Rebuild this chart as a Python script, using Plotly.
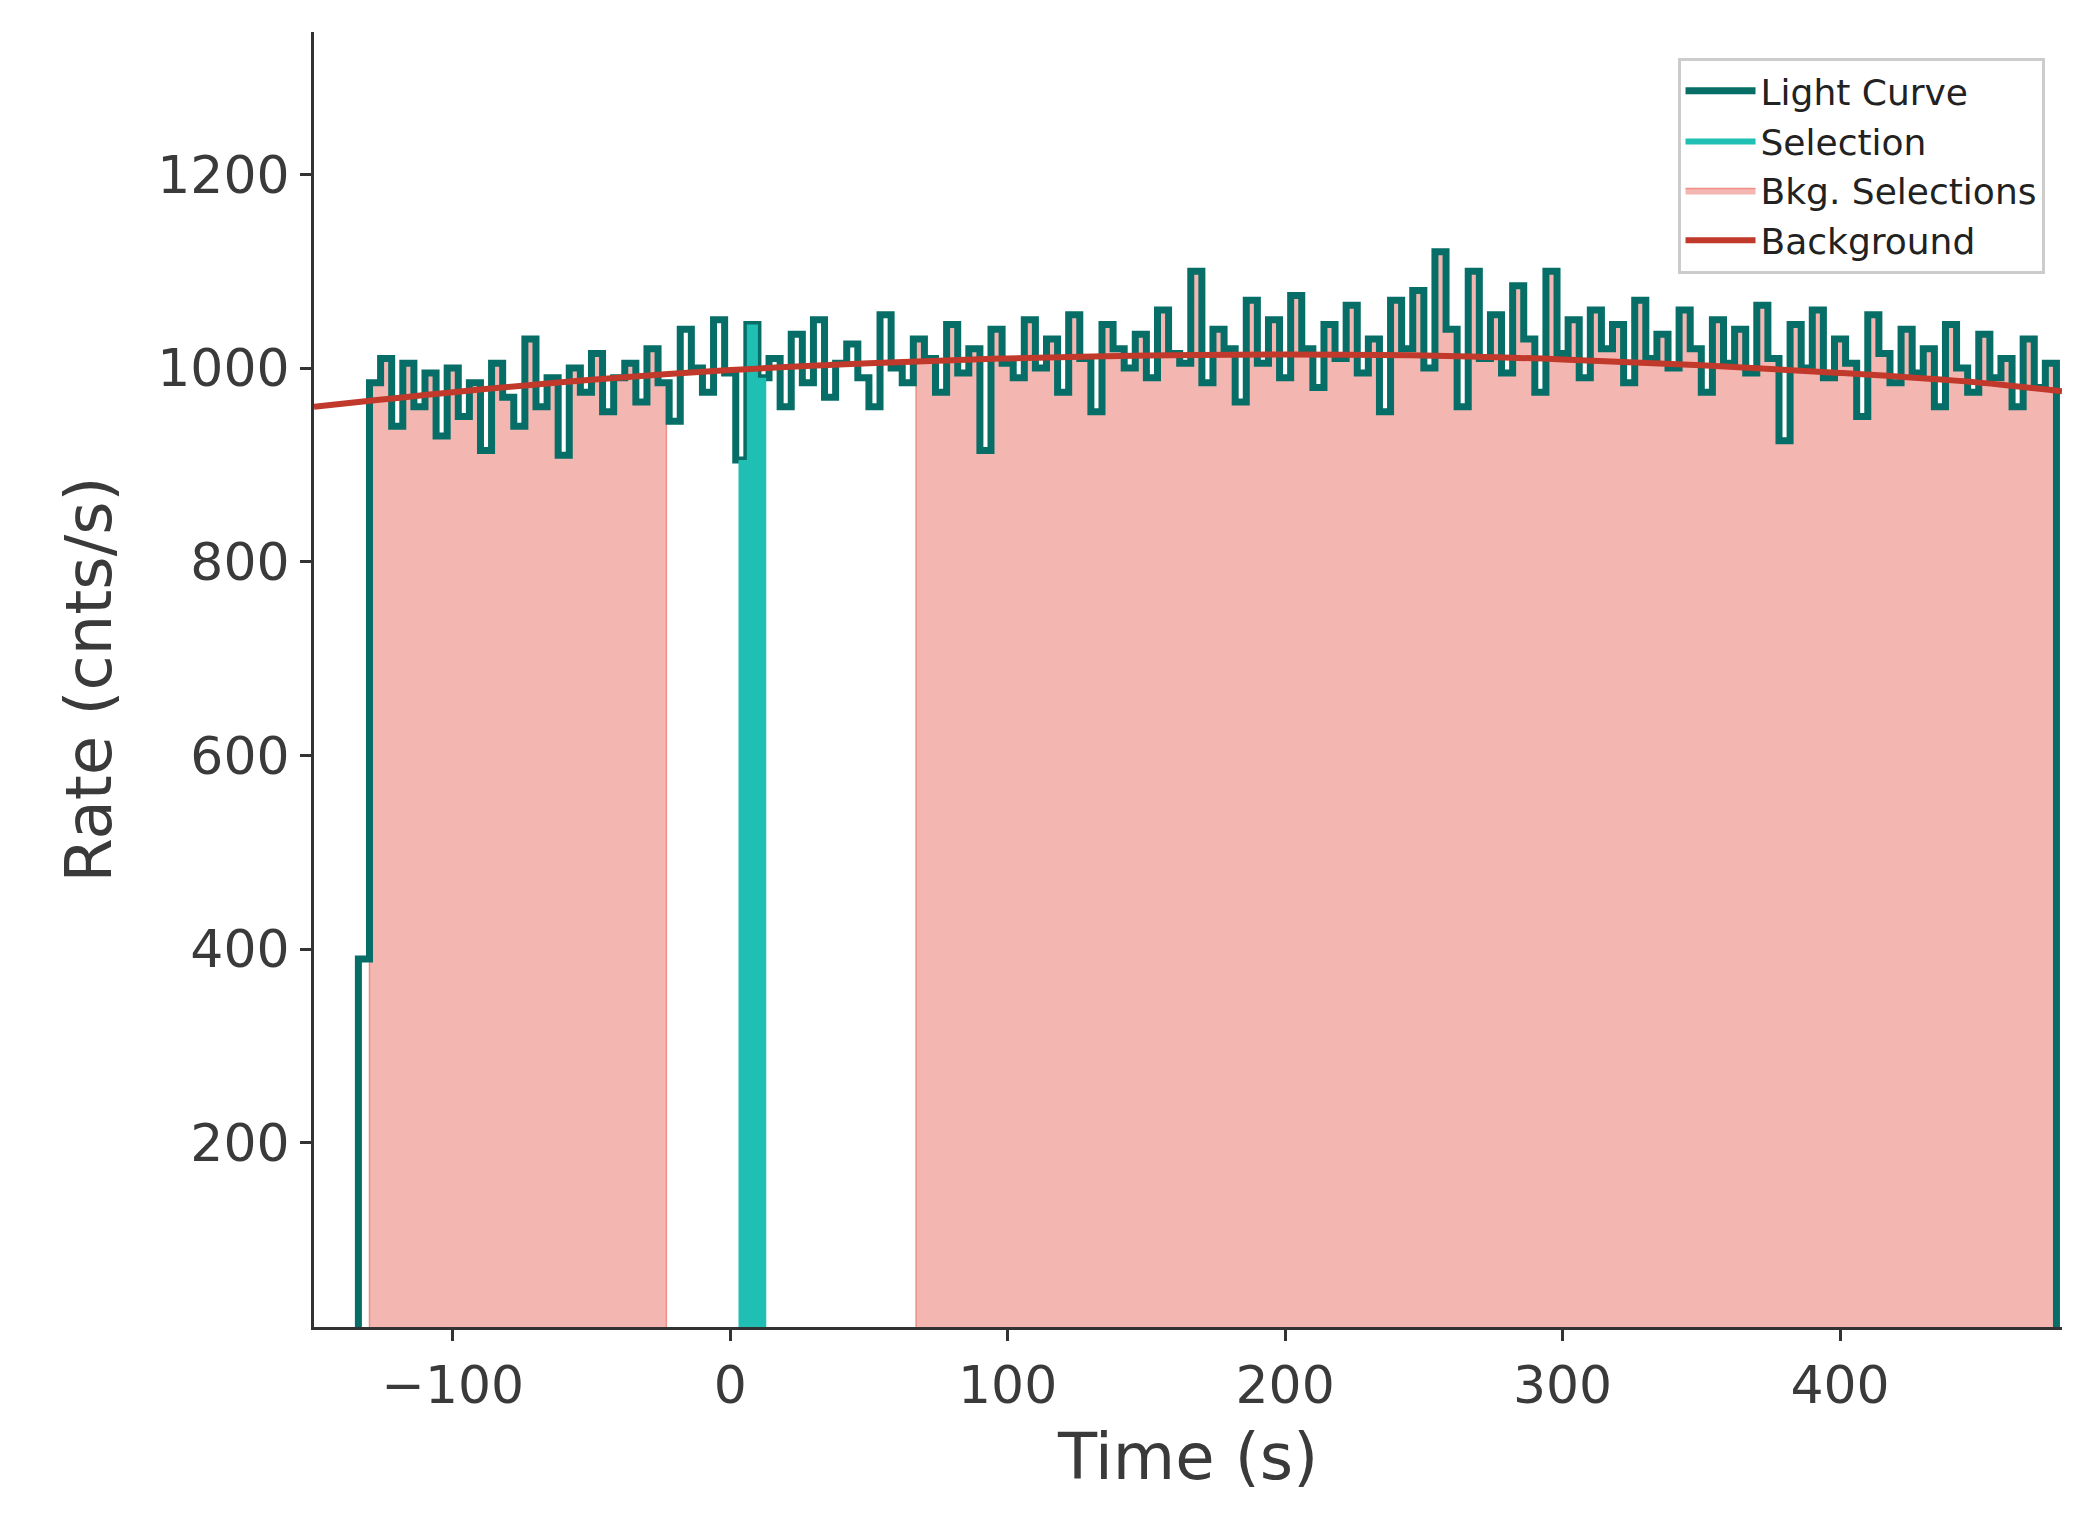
import plotly.graph_objects as go

t_start = -134
bin_w = 4
rates = [390, 985, 1010, 940, 1005, 960, 995, 930, 1000, 950, 985, 915, 1005, 970, 940, 1030, 960, 990, 910, 1000,
         975, 1015, 955, 990, 1005, 965, 1020, 985, 945, 1040, 1000, 975, 1050, 995, 905, 1045, 990, 1010, 960, 1035,
         985, 1050, 970, 1005, 1025, 990, 960, 1055, 1000, 985, 1030, 1010, 975, 1045, 995, 1020, 915, 1040, 1005, 990,
         1050, 1000, 1030, 975, 1055, 1010, 955, 1045, 1020, 1000, 1035, 990, 1060, 1015, 1005, 1100, 985, 1040, 1020, 965,
         1070, 1005, 1050, 990, 1075, 1020, 980, 1045, 1010, 1065, 995, 1030, 955, 1070, 1020, 1080, 1000, 1120, 1040, 960,
         1100, 1010, 1055, 995, 1085, 1030, 975, 1100, 1015, 1050, 990, 1060, 1020, 1045, 985, 1070, 1010, 1035, 1000, 1060,
         1020, 975, 1050, 1005, 1040, 995, 1065, 1010, 925, 1045, 1000, 1060, 990, 1030, 1005, 950, 1055, 1015, 985, 1040,
         995, 1020, 960, 1045, 1000, 975, 1035, 990, 1010, 960, 1030, 980, 1005]
sel_start, sel_end = 3, 13
bkg_intervals = [(-130, -23), (67, 478)]
bg_t = [-150, -100, -50, 0, 50, 100, 150, 200, 250, 300, 350, 400, 450, 480]
bg_v = [960, 975, 988, 998, 1005, 1010, 1013, 1014, 1013, 1009, 1003, 995, 985, 976]

times = [t_start + i * bin_w for i in range(len(rates))]
x_lc = [times[0]] + times + [times[-1] + bin_w, times[-1] + bin_w]
y_lc = [0] + rates + [rates[-1], 0]


def rate_at(t):
    idx = int((t - t_start) // bin_w)
    idx = max(0, min(len(rates) - 1, idx))
    return rates[idx]


def step_polygon(a, b):
    xs, ys = [a], [0]
    edges = [a] + [t for t in times if a < t < b] + [b]
    for i in range(len(edges) - 1):
        r = rate_at(edges[i])
        xs += [edges[i], edges[i + 1]]
        ys += [r, r]
    xs.append(b)
    ys.append(0)
    return xs, ys


fig = go.Figure()
for a, b in bkg_intervals:
    px, py = step_polygon(a, b)
    fig.add_trace(go.Scatter(x=px, y=py, fill="toself", fillcolor="#f4b6b1",
                             line=dict(color="#ee8f88", width=1.5), mode="lines",
                             name="Bkg. Selections", showlegend=False))
fig.add_trace(go.Scatter(x=x_lc, y=y_lc, mode="lines", line=dict(color="#076e67", width=7, shape="hv"),
                         name="Light Curve"))
sx, sy = step_polygon(sel_start, sel_end)
fig.add_trace(go.Scatter(x=sx, y=sy, fill="toself", fillcolor="#1fbfb4",
                         line=dict(width=0, color="#1fbfb4"), mode="lines", name="Selection"))
fig.add_trace(go.Scatter(x=[None], y=[None], mode="lines", fill="toself", fillcolor="#f4b6b1",
                         line=dict(color="#ee8f88", width=1.5), name="Bkg. Selections"))
fig.add_trace(go.Scatter(x=bg_t, y=bg_v, mode="lines", line=dict(color="#c0392b", width=6, shape="spline"),
                         name="Background"))

axis_common = dict(showgrid=False, zeroline=False, showline=True, linecolor="#333", linewidth=3,
                   ticks="outside", ticklen=11, tickwidth=3, tickcolor="#333",
                   tickfont=dict(size=52, color="#3a3a3a"), mirror=False)
fig.update_layout(
    width=2073, height=1540, plot_bgcolor="white", paper_bgcolor="white",
    font=dict(family="DejaVu Sans", color="#3a3a3a"),
    margin=dict(l=306, r=19, t=24, b=221),
    xaxis=dict(range=[-150, 480], tickvals=[-100, 0, 100, 200, 300, 400],
               ticktext=["\u2212100", "0", "100", "200", "300", "400"],
               title=dict(text="Time (s)", font=dict(size=64), standoff=20), **axis_common),
    yaxis=dict(range=[10, 1347], tickvals=[200, 400, 600, 800, 1000, 1200],
               title=dict(text="Rate (cnts/s)", font=dict(size=64), standoff=25), **axis_common),
    legend=dict(x=0.99, y=0.98, xanchor="right", yanchor="top", bgcolor="white",
                bordercolor="#cccccc", borderwidth=3, font=dict(size=36, color="#222"),
                itemwidth=70, tracegroupgap=10),
)
fig.write_html("out.html")
